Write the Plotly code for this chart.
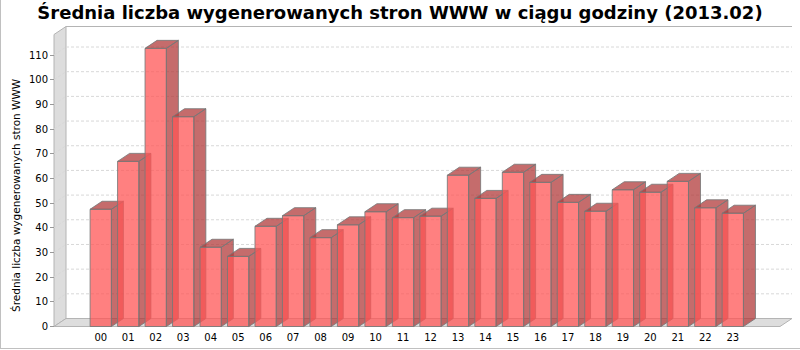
import plotly.graph_objects as go

# ---- data -------------------------------------------------------------
hours = ["00", "01", "02", "03", "04", "05", "06", "07", "08", "09", "10", "11",
         "12", "13", "14", "15", "16", "17", "18", "19", "20", "21", "22", "23"]
pages = [47.5, 66.9, 112.7, 85.0, 32.1, 28.4, 40.6, 44.9, 36.0, 41.2, 46.5, 44.1,
         44.7, 61.3, 51.9, 62.5, 58.4, 50.3, 46.7, 55.4, 54.4, 58.8, 48.1, 45.9]
y_ticks = [0, 10, 20, 30, 40, 50, 60, 70, 80, 90, 100, 110]

title_text = "Średnia liczba wygenerowanych stron WWW w ciągu godziny (2013.02)"
y_title = "Średnia liczba wygenerowanych stron WWW"

# ---- geometry of the pseudo-3D plot (pixels) ----------------------------
W, H = 800, 350
M_L, M_R, M_T, M_B = 50, 4, 20, 20
CAT_PX = 27.48       # pixel step between categories
CAT0_PX = 100.75     # pixel x of the first category centre
VAL_PX = 2.468       # pixels per value unit
ZERO_PX = 326.5      # pixel y of value 0 (front plane)
DEPTH_X, DEPTH_Y = 12, 8
BAR_W = 0.775        # bar width in category units
AXIS_L_PX, AXIS_R_PX, AXIS_T_PX = 54, 780, 34.5

FONT = "DejaVu Sans"
BAR_FILL = "rgba(255,85,85,0.75)"
BAR_DARK = "rgba(178,59,59,0.75)"
BAR_EDGE = "rgba(120,120,120,0.85)"
WALL_FILL = "#dddddd"
WALL_EDGE = "#b4b4b4"
GRID = "#d8d8d8"


def ux(px):
    return (px - CAT0_PX) / CAT_PX


def uy(py):
    return (ZERO_PX - py) / VAL_PX


def paper_x(px):
    return (px - M_L) / (W - M_L - M_R)


def paper_y(py):
    return (H - M_B - py) / (H - M_T - M_B)


DX = DEPTH_X / CAT_PX
DY = DEPTH_Y / VAL_PX
xa, xb = ux(AXIS_L_PX), ux(AXIS_R_PX)
top = uy(AXIS_T_PX)

fig = go.Figure()


def poly(xs, ys, fill, edge, width=1, dash=None):
    fig.add_trace(go.Scatter(
        x=xs, y=ys, mode="lines", fill="toself", fillcolor=fill,
        line=dict(color=edge, width=width, dash=dash),
        hoverinfo="skip", showlegend=False))


# left wall and floor
poly([xa, xa, xa + DX, xa + DX, xa], [0, top, top + DY, DY, 0], WALL_FILL, WALL_EDGE)
poly([xa, xb, xb + DX, xa + DX, xa], [0, 0, DY, DY, 0], WALL_FILL, WALL_EDGE)

# back-wall top edge
fig.add_trace(go.Scatter(
    x=[xa + DX, xb + DX], y=[top + DY, top + DY], mode="lines",
    line=dict(color=WALL_EDGE, width=1), hoverinfo="skip", showlegend=False))

# dashed gridlines on the back wall and their diagonals on the left wall
gx, gy = [], []
for v in y_ticks[1:]:
    gx += [xa + DX, xb + DX, None, xa, xa + DX, None]
    gy += [v + DY, v + DY, None, v, v + DY, None]
fig.add_trace(go.Scatter(
    x=gx, y=gy, mode="lines", line=dict(color=GRID, width=1, dash="3px,2px"),
    hoverinfo="skip", showlegend=False))

# bars: front face, then side and top faces, left to right
for i, v in enumerate(pages):
    l, r = i - BAR_W / 2, i + BAR_W / 2
    poly([l, r, r, l, l], [0, 0, v, v, 0], BAR_FILL, BAR_EDGE)
    poly([r, r + DX, r + DX, r, r, None, l, l + DX, r + DX, r, l],
         [0, DY, v + DY, v, 0, None, v, v + DY, v + DY, v, v],
         BAR_DARK, BAR_EDGE)

fig.update_layout(
    width=W, height=H,
    margin=dict(l=M_L, r=M_R, t=M_T, b=M_B),
    paper_bgcolor="white", plot_bgcolor="white",
    font=dict(family=FONT, color="black"),
    title=dict(text=title_text, x=0.5, xref="container", xanchor="center",
               y=1 - 13 / H, yref="container", yanchor="middle",
               font=dict(family=FONT, size=18, weight="bold", color="black")),
    xaxis=dict(range=[ux(M_L), ux(W - M_R)], tickvals=list(range(len(hours))),
               ticktext=hours, ticks="", showgrid=False, zeroline=False,
               showline=False, tickfont=dict(size=10, family=FONT),
               ticklabelstandoff=3,
               anchor="free", position=paper_y(ZERO_PX), fixedrange=True),
    yaxis=dict(range=[uy(H - M_B), uy(M_T)], tickvals=y_ticks, ticks="outside",
               ticklen=4, tickcolor="#999999", showgrid=False, zeroline=False,
               showline=False, tickfont=dict(size=10, family=FONT),
               anchor="free", position=paper_x(AXIS_L_PX), fixedrange=True),
    annotations=[dict(text=y_title, textangle=-90, showarrow=False,
                      xref="paper", yref="paper", x=paper_x(16), y=paper_y(195),
                      xanchor="center", yanchor="middle",
                      font=dict(family=FONT, size=10.5, color="black"))],
    shapes=[
        dict(type="line", xref="paper", yref="paper", layer="above",
             x0=paper_x(0.5), x1=paper_x(0.5), y0=paper_y(0), y1=paper_y(348.5),
             line=dict(color="#c0c0c0", width=1)),
        dict(type="line", xref="paper", yref="paper", layer="above",
             x0=paper_x(0), x1=paper_x(800), y0=paper_y(348.5), y1=paper_y(348.5),
             line=dict(color="#c0c0c0", width=1)),
    ],
)

fig.write_html("out.html")
